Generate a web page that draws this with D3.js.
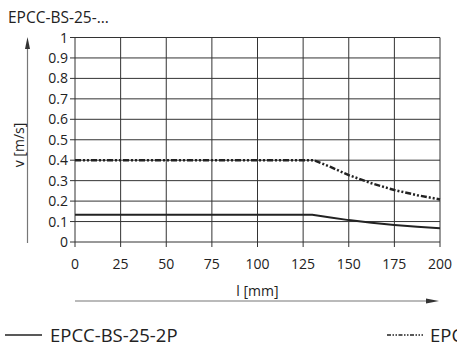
<!DOCTYPE html>
<html lang="en">
<head>
<meta charset="utf-8">
<script src="https://cdn.jsdelivr.net/npm/d3@7"></script>
<style>
  html, body { margin: 0; padding: 0; background: #fff; }
  svg { display: block; font-family: "Open Sans", "Noto Sans", sans-serif; }
</style>
</head>
<body>
<script>
const w = 457, h = 350;

// data
const xTicks = [0, 25, 50, 75, 100, 125, 150, 175, 200];
const yTicks = [0, 0.1, 0.2, 0.3, 0.4, 0.5, 0.6, 0.7, 0.8, 0.9, 1];
const series2P = [[0, 0.133], [130, 0.133], [140, 0.12], [150, 0.107], [162.5, 0.094], [175, 0.083], [187.5, 0.074], [200, 0.067]];
const seriesOther = [[0, 0.4], [131, 0.4], [140, 0.367], [150, 0.327], [162.5, 0.287], [175, 0.254], [187.5, 0.229], [200, 0.208]];
const legendNames = ["EPCC-BS-25-2P", "EPCC-BS-25-4P"];

const svg = d3.select("body").append("svg")
  .attr("width", w).attr("height", h);

const x = d3.scaleLinear([0, 200], [75, 440]);
const y = d3.scaleLinear([0, 1], [242, 37.5]);

svg.append("text").text("EPCC-BS-25-...")
  .attr("x", 8).attr("y", 23).attr("font-size", 15.5).attr("fill", "#222");

// grid
const grid = svg.append("g").attr("stroke", "#333").attr("stroke-width", 1);
grid.selectAll("line.v").data(xTicks).join("line")
  .attr("x1", d => x(d)).attr("x2", d => x(d))
  .attr("y1", y(1)).attr("y2", y(0) + 5);
grid.selectAll("line.h").data(yTicks).join("line")
  .attr("x1", x(0) - 5).attr("x2", x(200))
  .attr("y1", d => y(d)).attr("y2", d => y(d));

// tick labels
svg.append("g").selectAll("text").data(yTicks).join("text")
  .text(d => d)
  .attr("x", 68).attr("y", d => y(d) + 5)
  .attr("text-anchor", "end").attr("font-size", 14).attr("fill", "#222");
svg.append("g").selectAll("text").data(xTicks).join("text")
  .text(d => d)
  .attr("x", d => x(d)).attr("y", 269)
  .attr("text-anchor", "middle").attr("font-size", 14).attr("fill", "#222");

// axis arrows
const arrow = svg.append("g").attr("stroke", "#777").attr("stroke-width", 1.2);
arrow.append("line").attr("x1", 27.5).attr("x2", 27.5).attr("y1", 243).attr("y2", 45);
svg.append("path").attr("d", "M27.5,37 L25,49 L30,49 Z").attr("fill", "#333");
arrow.append("line").attr("x1", 75).attr("x2", 430).attr("y1", 301).attr("y2", 301);
svg.append("path").attr("d", "M439,301 L426,298.5 L426,303.5 Z").attr("fill", "#333");

svg.append("text").text("v [m/s]")
  .attr("transform", "translate(24,145) rotate(-90)")
  .attr("text-anchor", "middle").attr("font-size", 14).attr("fill", "#222");
svg.append("text").text("l [mm]")
  .attr("x", x(100)).attr("y", 296)
  .attr("text-anchor", "middle").attr("font-size", 14).attr("fill", "#222");

// series
const line = d3.line().x(d => x(d[0])).y(d => y(d[1]));
svg.append("path").datum(series2P).attr("d", line)
  .attr("fill", "none").attr("stroke", "#222").attr("stroke-width", 2);
svg.append("path").datum(seriesOther).attr("d", line)
  .attr("fill", "none").attr("stroke", "#222").attr("stroke-width", 2.5)
  .attr("stroke-dasharray", "6,2,2,2,2,2");

// legend
svg.append("line").attr("x1", 5).attr("x2", 42).attr("y1", 335).attr("y2", 335)
  .attr("stroke", "#222").attr("stroke-width", 1.5);
svg.append("text").text(legendNames[0])
  .attr("x", 50).attr("y", 342).attr("font-size", 18.5).attr("fill", "#222");
svg.append("line").attr("x1", 387).attr("x2", 423).attr("y1", 335).attr("y2", 335)
  .attr("stroke", "#222").attr("stroke-width", 1.5)
  .attr("stroke-dasharray", "4,1.5,1.5,1.5,1.5,1.5");
svg.append("text").text(legendNames[1])
  .attr("x", 430).attr("y", 342).attr("font-size", 18.5).attr("fill", "#222");
</script>
</body>
</html>
